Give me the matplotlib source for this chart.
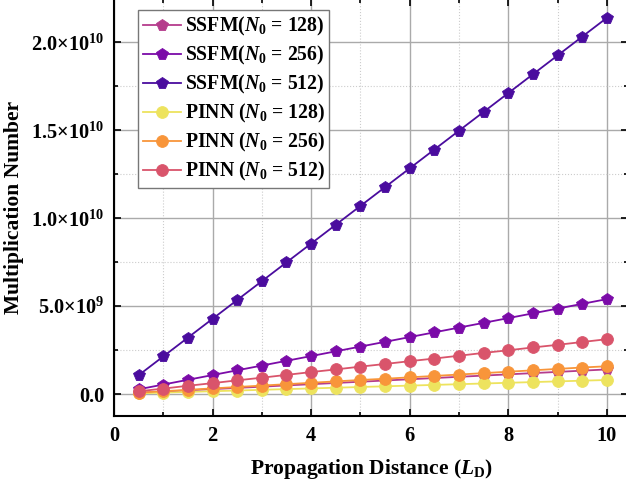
import matplotlib.pyplot as plt
from matplotlib.ticker import MultipleLocator, FuncFormatter

plt.rcParams['font.family'] = 'Liberation Serif'
plt.rcParams['font.weight'] = 'bold'
plt.rcParams['mathtext.fontset'] = 'custom'
plt.rcParams['mathtext.rm'] = 'Liberation Serif:bold'
plt.rcParams['mathtext.bf'] = 'Liberation Serif:bold'
plt.rcParams['mathtext.it'] = 'Liberation Serif:bold:italic'

# propagation distance (L_D)
distance = [0.5, 1.0, 1.5, 2.0, 2.5, 3.0, 3.5, 4.0, 4.5, 5.0,
            5.5, 6.0, 6.5, 7.0, 7.5, 8.0, 8.5, 9.0, 9.5, 10.0]

# multiplication counts
ssfm_128 = [0.07e9, 0.14e9, 0.21e9, 0.28e9, 0.35e9, 0.42e9, 0.49e9, 0.56e9, 0.63e9, 0.70e9,
            0.77e9, 0.84e9, 0.91e9, 0.98e9, 1.05e9, 1.12e9, 1.19e9, 1.26e9, 1.33e9, 1.40e9]
ssfm_256 = [0.27e9, 0.54e9, 0.81e9, 1.08e9, 1.35e9, 1.62e9, 1.89e9, 2.16e9, 2.43e9, 2.70e9,
            2.97e9, 3.24e9, 3.51e9, 3.78e9, 4.05e9, 4.32e9, 4.59e9, 4.86e9, 5.13e9, 5.40e9]
ssfm_512 = [1.07e9, 2.14e9, 3.21e9, 4.28e9, 5.35e9, 6.42e9, 7.49e9, 8.56e9, 9.63e9, 10.70e9,
            11.77e9, 12.84e9, 13.91e9, 14.98e9, 16.05e9, 17.12e9, 18.19e9, 19.26e9, 20.33e9, 21.40e9]
pinn_128 = [0.04e9, 0.08e9, 0.12e9, 0.16e9, 0.20e9, 0.24e9, 0.28e9, 0.32e9, 0.36e9, 0.40e9,
            0.44e9, 0.48e9, 0.52e9, 0.56e9, 0.60e9, 0.64e9, 0.68e9, 0.72e9, 0.76e9, 0.80e9]
pinn_256 = [0.08e9, 0.16e9, 0.24e9, 0.32e9, 0.40e9, 0.48e9, 0.56e9, 0.64e9, 0.72e9, 0.80e9,
            0.87e9, 0.95e9, 1.03e9, 1.11e9, 1.19e9, 1.27e9, 1.35e9, 1.43e9, 1.51e9, 1.58e9]
pinn_512 = [0.156e9, 0.31e9, 0.47e9, 0.62e9, 0.78e9, 0.93e9, 1.09e9, 1.25e9, 1.40e9, 1.56e9,
            1.71e9, 1.87e9, 2.02e9, 2.18e9, 2.34e9, 2.49e9, 2.65e9, 2.80e9, 2.96e9, 3.12e9]

series = [
    (ssfm_128, r'SSFM($N_0$ = 128)', '#B53C8C', 'p'),
    (ssfm_256, r'SSFM($N_0$ = 256)', '#7B0BA8', 'p'),
    (ssfm_512, r'SSFM($N_0$ = 512)', '#4A0C9E', 'p'),
    (pinn_128, r'PINN ($N_0$ = 128)', '#EDE35E', 'o'),
    (pinn_256, r'PINN ($N_0$ = 256)', '#F8953A', 'o'),
    (pinn_512, r'PINN ($N_0$ = 512)', '#D9546B', 'o'),
]

fig = plt.figure(figsize=(6.26, 4.86), dpi=100)
ax = fig.add_axes([0.1821, 0.1440, 0.8211, 0.8590])

for values, label, color, marker in series:
    ax.plot(distance, values, color=color, lw=1.3, marker=marker, markersize=8.5,
            markerfacecolor=color, markeredgecolor=color, markeredgewidth=0.6,
            label=label, zorder=3)

ax.set_xlim(0, 10.43)
ax.set_ylim(-1.25e9, 2.25e10)
ax.xaxis.set_major_locator(MultipleLocator(2))
ax.xaxis.set_minor_locator(MultipleLocator(1))
ax.yaxis.set_major_locator(MultipleLocator(5e9))
ax.yaxis.set_minor_locator(MultipleLocator(2.5e9))


def y_fmt(v, pos):
    if abs(v) < 1:
        return '0.0'
    exp = 9 if abs(v) < 1e10 else 10
    return r'$%.1f{\times}10^{%d}$' % (v / 10 ** exp, exp)


ax.yaxis.set_major_formatter(FuncFormatter(y_fmt))
ax.xaxis.set_major_formatter(FuncFormatter(lambda v, p: '%d' % v))

ax.grid(which='major', color='#aaaaaa', lw=1.0, ls='-')
ax.grid(which='minor', color='#cccccc', lw=0.8, ls=':')
ax.set_axisbelow(True)

ax.tick_params(which='both', direction='in', top=True, right=True, labelsize=14.7, width=1.2)
ax.tick_params(which='major', length=5, pad=7)
ax.tick_params(which='minor', length=3)
for sp in ax.spines.values():
    sp.set_linewidth(1.5)

ax.set_xlabel(r'Propagation Distance ($L_\mathrm{D}$)', fontsize=15.5, fontweight='bold', labelpad=8)
ax.set_ylabel('Multiplication Number', fontsize=15.5, fontweight='bold', labelpad=5)

leg = ax.legend(loc='upper left', bbox_to_anchor=(0.047, 0.972), borderaxespad=0,
                fontsize=14.2, frameon=True, fancybox=False, edgecolor='#777777',
                framealpha=1, handlelength=1.9, labelspacing=0.3, borderpad=0.25,
                handletextpad=0.2)
leg.get_frame().set_linewidth(1.0)

fig.savefig('out.png', dpi=100)
